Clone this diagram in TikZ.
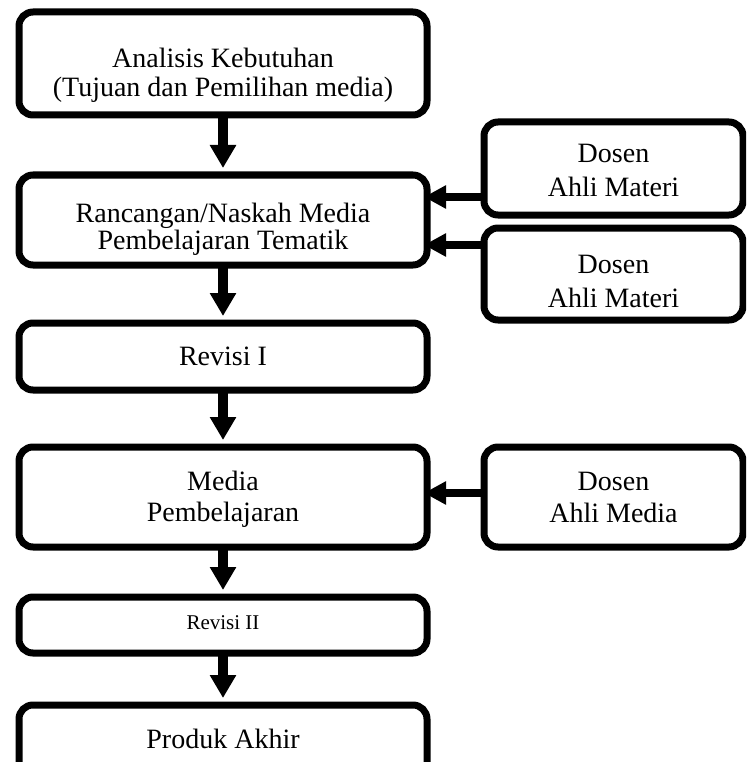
\documentclass[tikz,border=0pt]{standalone}
\usepackage{fontspec}
\setmainfont{Liberation Serif}
\usetikzlibrary{arrows.meta}
\begin{document}
\begin{tikzpicture}[x=1pt,y=-1pt,
  box/.style={draw=black, line width=7pt, rounded corners=14pt, fill=white,
    inner sep=0pt, outer sep=0pt, minimum width=408pt},
  rbox/.style={box, minimum width=259pt},
  txt/.style={align=center, inner sep=0pt},
  varrow/.style={line width=9.5pt, -{Triangle[length=23pt,width=25pt]}, shorten >=7pt},
  harrow/.style={line width=8pt, -{Triangle[length=22pt,width=22pt]}, shorten >=-3pt}]
\useasboundingbox (0,0) rectangle (746,762);
\fill[white] (0,0) rectangle (746,762);
\clip (0,0) rectangle (746,762);
% main column
\node[box, minimum height=103pt] (n1) at (223,63.5) {};
\node[box, minimum height=90pt] (n2) at (223,220) {};
\node[box, minimum height=67pt] (n3) at (223,356.5) {};
\node[box, minimum height=100pt] (n4) at (223,497) {};
\node[box, minimum height=56pt] (n5) at (223,625) {};
\node[box, minimum height=95pt] (n6) at (223,752.5) {};
% right column
\node[rbox, minimum height=93pt] (r1) at (613.5,168.5) {};
\node[rbox, minimum height=92pt] (r2) at (613.5,274) {};
\node[rbox, minimum height=100pt] (r3) at (613.5,497) {};
% texts
\node[txt, font=\fontsize{28}{29}\selectfont] (t1) at ([yshift=-11.5pt]n1.center) {Analisis Kebutuhan\\(Tujuan dan Pemilihan media)};
\node[txt, font=\fontsize{28}{27}\selectfont] (t2) at ([yshift=-9pt]n2.center) {Rancangan/Naskah Media\\Pembelajaran Tematik};
\node[txt, font=\fontsize{28}{29}\selectfont] (t3) at (n3.center) {Revisi I};
\node[txt, font=\fontsize{28}{31}\selectfont] (t4) at ([yshift=-2pt]n4.center) {Media\\Pembelajaran};
\node[txt, font=\fontsize{21}{24}\selectfont] (t5) at ([yshift=2pt]n5.center) {Revisi II};
\node[txt, font=\fontsize{28}{29}\selectfont] (t6) at ([yshift=14pt]n6.center) {Produk Akhir};
\node[txt, font=\fontsize{28}{34}\selectfont] (u1) at ([yshift=-2pt]r1.center) {Dosen\\Ahli Materi};
\node[txt, font=\fontsize{28}{34}\selectfont] (u2) at ([yshift=-7pt]r2.center) {Dosen\\Ahli Materi};
\node[txt, font=\fontsize{28}{32}\selectfont] (u3) at (r3.center) {Dosen\\Ahli Media};
% vertical arrows
\draw[varrow] (n1.south) -- (n2.north);
\draw[varrow] (n2.south) -- (n3.north);
\draw[varrow] (n3.south) -- (n4.north);
\draw[varrow] (n4.south) -- (n5.north);
\draw[varrow] (n5.south) -- (n6.north);
% horizontal arrows
\coordinate (h1) at (455,197);
\coordinate (h2) at (455,245);
\coordinate (h3) at (455,493);
\draw[harrow] (r1.west |- h1) -- (n2.east |- h1);
\draw[harrow] (r2.west |- h2) -- (n2.east |- h2);
\draw[harrow] (r3.west |- h3) -- (n4.east |- h3);
\end{tikzpicture}
\end{document}
